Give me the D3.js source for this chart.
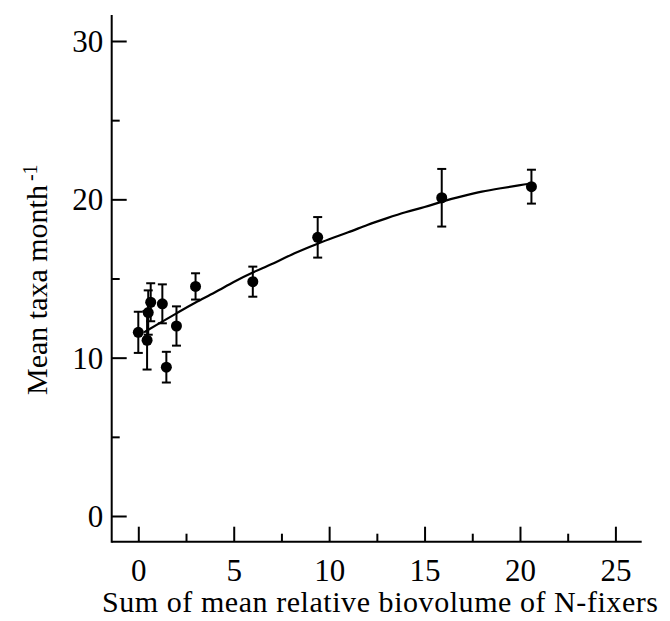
<!DOCTYPE html>
<html>
<head>
<meta charset="utf-8">
<script src="https://cdn.jsdelivr.net/npm/d3@7"></script>
<style>
  body { margin: 0; background: #fff; }
  svg { display: block; font-family: "Liberation Serif", "DejaVu Serif", serif; }
  .axis text { font-family: "Liberation Serif", serif; font-size: 31px; fill: #000; }
  .axis line { stroke: #000; stroke-width: 2; }
</style>
</head>
<body>
<div id="chart"></div>
<script>
// N-fixer biovolume vs taxa per month
var biovolume = [0, 0.46, 0.52, 0.65, 1.26, 1.47, 2.0, 3.0, 6.0, 9.4, 15.9, 20.6];
var meanTaxa  = [11.6, 11.1, 12.85, 13.5, 13.4, 9.4, 12.0, 14.5, 14.8, 17.6, 20.1, 20.8];
var errTaxa   = [1.3, 1.85, 1.4, 1.2, 1.23, 0.97, 1.24, 0.83, 0.95, 1.28, 1.82, 1.07];

// fitted curve
var curveX = [0.3, 1, 2, 3, 4, 5, 6, 7, 8, 9, 10, 11, 12, 13, 14, 15, 16, 17, 18, 19, 20, 20.6];
var curveY = [11.6, 12.1, 12.8, 13.5, 14.1, 14.8, 15.4, 15.9, 16.5, 17.0, 17.5, 17.9, 18.4, 18.8, 19.2, 19.5, 19.9, 20.2, 20.5, 20.7, 20.9, 21.0];

var xTicks = [0, 5, 10, 15, 20, 25];
var xMinor = [2.5, 7.5, 12.5, 17.5, 22.5];
var yTicks = [0, 10, 20, 30];
var yMinor = [5, 15, 25];

var width = 670, height = 621;

var svg = d3.select("#chart")
    .append("svg")
    .attr("width", width)
    .attr("height", height);

var xScale = d3.scaleLinear().domain([0, 25]).range([138.3, 615.4]);
var yScale = d3.scaleLinear().domain([0, 30]).range([516, 41]);

var axisX = 541.7, axisY = 111.7;

// x axis
var gx = svg.append("g")
    .attr("class", "axis")
    .attr("transform", "translate(0," + axisX + ")")
    .call(d3.axisBottom(xScale).tickValues(xTicks).tickSize(-15).tickFormat(d3.format("d")));
gx.selectAll("text").attr("y", 39).attr("dy", 0);
gx.select(".domain").remove();

var gxm = svg.append("g")
    .attr("class", "axis")
    .attr("transform", "translate(0," + axisX + ")")
    .call(d3.axisBottom(xScale).tickValues(xMinor).tickSize(-8).tickFormat(""));
gxm.select(".domain").remove();

// y axis
var gy = svg.append("g")
    .attr("class", "axis")
    .attr("transform", "translate(" + axisY + ",0)")
    .call(d3.axisLeft(yScale).tickValues(yTicks).tickSize(-15).tickPadding(8).tickFormat(d3.format("d")));
gy.selectAll("text").attr("x", -8.4).attr("dy", "0.34em");
gy.select(".domain").remove();

var gym = svg.append("g")
    .attr("class", "axis")
    .attr("transform", "translate(" + axisY + ",0)")
    .call(d3.axisLeft(yScale).tickValues(yMinor).tickSize(-8).tickFormat(""));
gym.select(".domain").remove();

// axis lines
svg.append("line")
    .attr("x1", axisY).attr("x2", 641.7)
    .attr("y1", axisX).attr("y2", axisX)
    .attr("stroke", "#000").attr("stroke-width", 2);
svg.append("line")
    .attr("x1", axisY).attr("x2", axisY)
    .attr("y1", 15).attr("y2", axisX + 1)
    .attr("stroke", "#000").attr("stroke-width", 2);

// fitted curve
var curveData = curveX.map(function(x, i) { return {x: x, y: curveY[i]}; });
var line = d3.line()
    .x(function(d) { return xScale(d.x); })
    .y(function(d) { return yScale(d.y); })
    .curve(d3.curveBasis);
svg.append("path")
    .datum(curveData)
    .attr("d", line)
    .attr("fill", "none")
    .attr("stroke", "#000")
    .attr("stroke-width", 2.2);

// error bars + points
var pts = biovolume.map(function(x, i) { return {x: x, y: meanTaxa[i], e: errTaxa[i]}; });
var eb = svg.selectAll(".err")
    .data(pts)
    .enter()
    .append("g")
    .attr("class", "err")
    .attr("stroke", "#000")
    .attr("stroke-width", 2);
eb.append("line")
    .attr("x1", function(d) { return xScale(d.x); })
    .attr("x2", function(d) { return xScale(d.x); })
    .attr("y1", function(d) { return yScale(d.y + d.e); })
    .attr("y2", function(d) { return yScale(d.y - d.e); });
eb.append("line")
    .attr("x1", function(d) { return xScale(d.x) - 4.5; })
    .attr("x2", function(d) { return xScale(d.x) + 4.5; })
    .attr("y1", function(d) { return yScale(d.y + d.e); })
    .attr("y2", function(d) { return yScale(d.y + d.e); });
eb.append("line")
    .attr("x1", function(d) { return xScale(d.x) - 4.5; })
    .attr("x2", function(d) { return xScale(d.x) + 4.5; })
    .attr("y1", function(d) { return yScale(d.y - d.e); })
    .attr("y2", function(d) { return yScale(d.y - d.e); });

svg.selectAll(".dot")
    .data(pts)
    .enter()
    .append("circle")
    .attr("class", "dot")
    .attr("cx", function(d) { return xScale(d.x); })
    .attr("cy", function(d) { return yScale(d.y); })
    .attr("r", 5.5)
    .attr("fill", "#000");

// axis titles
svg.append("text")
    .attr("x", 380)
    .attr("y", 612)
    .attr("text-anchor", "middle")
    .style("font-size", "30px")
    .attr("textLength", 556)
    .text("Sum of mean relative biovolume of N-fixers");

var yt = svg.append("text")
    .attr("transform", "translate(46.7,395) rotate(-90)")
    .style("font-size", "30px");
yt.append("tspan").text("Mean taxa month");
yt.append("tspan")
    .attr("dx", 4)
    .attr("dy", -10)
    .style("font-size", "20px")
    .text("-1");
</script>
</body>
</html>
